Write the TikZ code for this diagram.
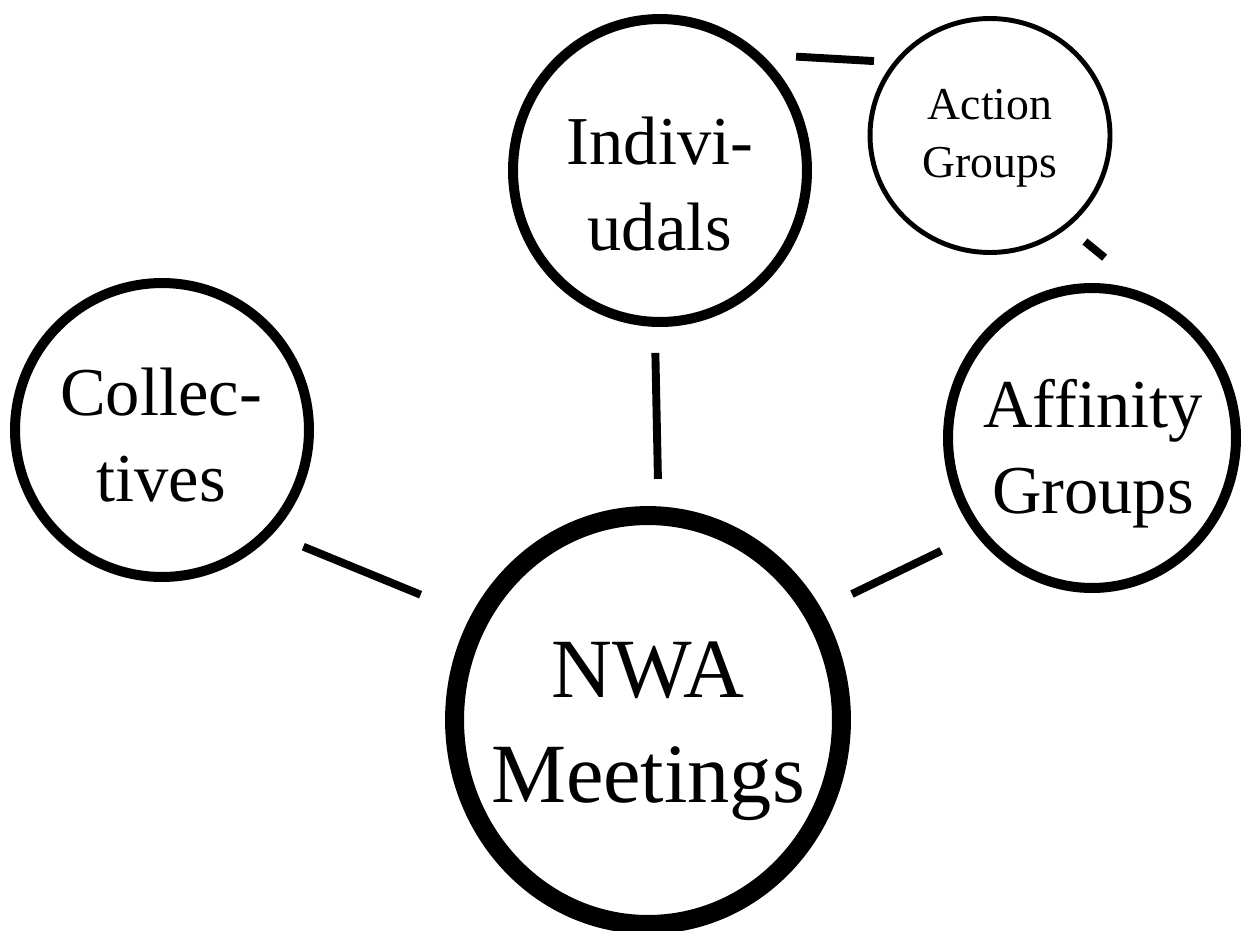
\documentclass[tikz,border=0pt]{standalone}
\usepackage{fontspec}
\setmainfont{Liberation Serif}
\usetikzlibrary{shapes.geometric}

\begin{document}
\begin{tikzpicture}[x=0.02cm, y=-0.02cm,
  ring/.style={draw, ellipse, inner sep=0pt, outer sep=0pt, line width=5.7pt, minimum width=5.88cm, minimum height=5.88cm},
  link/.style={draw, line width=4.5pt},
  word/.style={align=center, inner sep=0pt, font=\fontsize{39}{49}\selectfont}]
  \useasboundingbox (0,0) rectangle (1243,930);
  % circles
  \node [draw, ellipse, inner sep=0pt, outer sep=0pt, line width=10.8pt, minimum width=7.74cm, minimum height=8.18cm] (nwa) at (648,720) {};
  \node [ring, minimum height=6.06cm] (ind) at ( 660, 170.5) {};
  \node [ring] (coll) at ( 162, 430) {};
  \node [ring, minimum width=5.76cm, minimum height=6cm] (aff) at (1092, 438) {};
  \node [ring, line width=2.8pt, minimum width=4.8cm, minimum height=4.68cm] (act) at (990, 135.5) {};
  % texts
  \node [word, font=\fontsize{48}{59.5}\selectfont] (nwaT) at (648, 731) {NWA\\Meetings};
  \node [word] (indT)  at ( 660, 184) {Indivi-\\udals};
  \node [word] (collT) at ( 161, 435) {Collec-\\tives};
  \node [word] (affT)  at (1093, 454) {Affinity\\Groups};
  \node [word, font=\fontsize{26}{33}\selectfont] (actT) at (990, 138) {Action\\Groups};
  % links
  \path [link, shorten <=0.77cm, shorten >=1.28cm] (coll.-44) -- (nwa.149);
  \path [link, shorten <=0.62cm, shorten >=0.74cm] (ind.-92)  -- (nwa.87);
  \path [link, shorten <=0.86cm, shorten >=0.87cm] (aff.220)  -- (nwa.33);
  \path [link, shorten <=0.84cm, shorten >=0.45cm] (ind.51)   -- (act.142);
  \path [link, shorten <=0.49cm, shorten >=1.92cm] (act.-50)  -- (aff.54);
\end{tikzpicture}
\end{document}
